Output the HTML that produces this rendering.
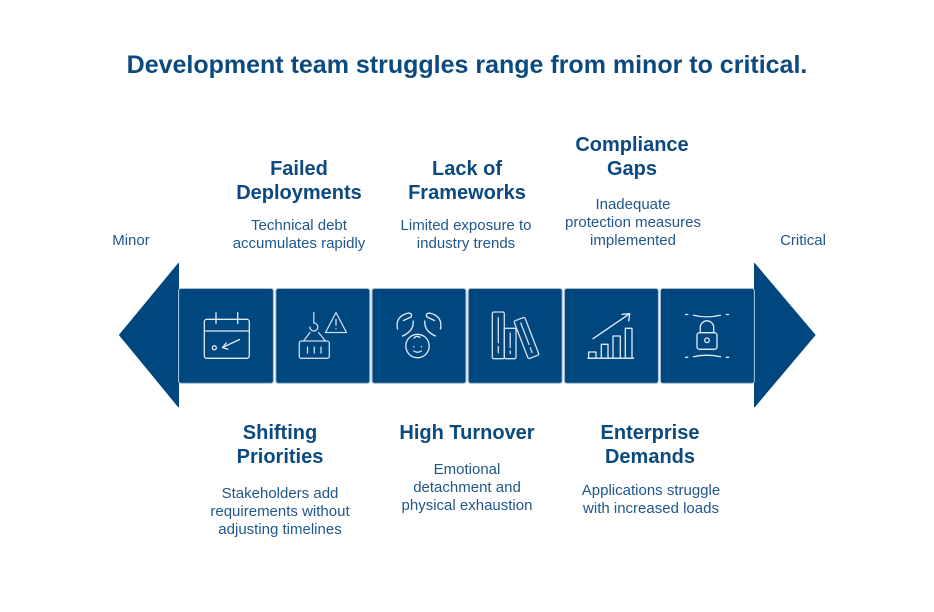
<!DOCTYPE html>
<html>
<head>
<meta charset="utf-8">
<style>
html,body{margin:0;padding:0;background:#ffffff;}
body{width:934px;height:612px;overflow:hidden;}
svg{display:block;}
.t{font-family:"Liberation Sans",Arial,sans-serif;font-weight:bold;font-size:20px;fill:#0a4a80;text-anchor:middle;}
.d{font-family:"Liberation Sans",Arial,sans-serif;font-size:15px;fill:#1f568c;text-anchor:middle;}
.ic{fill:none;stroke:#e4ecf5;stroke-width:1.3;stroke-linecap:round;stroke-linejoin:round;}
</style>
</head>
<body>
<svg width="934" height="612" viewBox="0 0 934 612" xmlns="http://www.w3.org/2000/svg">
  <!-- Title -->
  <text x="467" y="73" font-family="Liberation Sans, Arial, sans-serif" font-weight="bold" font-size="25" fill="#0a4a80" text-anchor="middle">Development team struggles range from minor to critical.</text>

  <!-- Arrowheads -->
  <polygon points="119.5,335 178.5,263.5 178.5,406.8" fill="#00467f" stroke="#00467f" stroke-width="1" stroke-linejoin="round"/>
  <polygon points="754.5,263.5 815,335 754.5,406.8" fill="#00467f" stroke="#00467f" stroke-width="1" stroke-linejoin="round"/>

  <!-- Boxes -->
  <g fill="#00467f" stroke="#a7bdd4" stroke-width="1.1">
    <rect x="178.6" y="288.5" width="94.8" height="94.8" rx="2.5"/>
    <rect x="275.8" y="288.5" width="94" height="94.8" rx="2.5"/>
    <rect x="372" y="288.5" width="94" height="94.8" rx="2.5"/>
    <rect x="468.2" y="288.5" width="94" height="94.8" rx="2.5"/>
    <rect x="564.4" y="288.5" width="94" height="94.8" rx="2.5"/>
    <rect x="660.4" y="288.5" width="94" height="94.8" rx="2.5"/>
  </g>

  <!-- Icon 1: calendar -->
  <g class="ic">
    <rect x="204.3" y="319.3" width="45" height="39" rx="2.5"/>
    <line x1="204.3" y1="331" x2="249.3" y2="331"/>
    <line x1="216" y1="312.7" x2="216" y2="323.5"/>
    <line x1="237.7" y1="312.7" x2="237.7" y2="323.5"/>
    <circle cx="214.3" cy="347.7" r="2"/>
    <line x1="239.5" y1="339.5" x2="222.5" y2="347.5"/>
    <polyline points="226.2,343 222.5,347.5 227.8,349.3"/>
  </g>

  <!-- Icon 2: crane / container / warning -->
  <g class="ic" style="stroke:#cfdbe8">
    <path d="M313.8,312.7 V323 a4,4 0 1 1 -4,4"/>
    <line x1="310" y1="332.5" x2="303.5" y2="341"/>
    <line x1="318.5" y1="332.5" x2="325.5" y2="341"/>
    <rect x="299.3" y="341" width="30" height="17.3" rx="2"/>
    <line x1="307.5" y1="347" x2="307.5" y2="353"/>
    <line x1="314.3" y1="347" x2="314.3" y2="353"/>
    <line x1="321" y1="347" x2="321" y2="353"/>
    <path d="M336,312.5 L346.5,332.5 L325.5,332.5 Z"/>
    <line x1="336" y1="319.5" x2="336" y2="325.3"/>
    <line x1="336" y1="328.8" x2="336" y2="329"/>
  </g>

  <!-- Icon 3: hands + face -->
  <g class="ic">
    <path d="M397.5,329 Q395,316 408.5,313"/>
    <path d="M408.5,313 Q413,313.5 411,317 L403.5,320.5"/>
    <path d="M402.5,336 Q414,331 413.2,321"/>
    <path d="M440.5,329 Q443,316 429.5,313"/>
    <path d="M429.5,313 Q425,313.5 427,317 L434.5,320.5"/>
    <path d="M435.5,336 Q424,331 424.8,321"/>
    <circle cx="417.5" cy="346" r="11.7"/>
    <path d="M414,338 Q417,335 420,337.5"/>
    <line x1="413.8" y1="346.5" x2="413.8" y2="346.8"/>
    <line x1="421.5" y1="346.5" x2="421.5" y2="346.8"/>
    <path d="M413.8,351 Q417.6,353.4 421.4,351"/>
  </g>

  <!-- Icon 4: books -->
  <g class="ic" style="stroke:#d6e1ed">
    <rect x="492.3" y="312" width="12" height="46.7" rx="1.5"/>
    <line x1="498.3" y1="317.7" x2="498.3" y2="342.7"/>
    <line x1="498.3" y1="346.5" x2="498.3" y2="352.7"/>
    <rect x="504.3" y="328.3" width="11.7" height="30.4" rx="1.5"/>
    <line x1="510.2" y1="333" x2="510.2" y2="347.5"/>
    <line x1="510.2" y1="351" x2="510.2" y2="353.5"/>
    <g transform="rotate(-21 526.5 338)">
      <rect x="520.7" y="317.8" width="11.6" height="40.4" rx="1.5"/>
      <line x1="526.5" y1="322" x2="526.5" y2="345"/>
      <line x1="526.5" y1="348.5" x2="526.5" y2="353.5"/>
    </g>
  </g>

  <!-- Icon 5: bar chart -->
  <g class="ic">
    <rect x="588.7" y="352" width="7.3" height="6.2"/>
    <rect x="601.3" y="344.3" width="6.7" height="13.9"/>
    <rect x="613" y="336" width="7.3" height="22.2"/>
    <rect x="625.3" y="328.3" width="6.7" height="29.9"/>
    <line x1="588" y1="358.2" x2="633.7" y2="358.2"/>
    <line x1="593" y1="338.7" x2="629.7" y2="313.7"/>
    <polyline points="622,314.3 629.7,313.7 628.7,321"/>
  </g>

  <!-- Icon 6: lock -->
  <g class="ic">
    <rect x="697" y="332.7" width="20" height="16.6" rx="2.5"/>
    <path d="M700.3,332.7 V327.5 a6.7,6.7 0 0 1 13.4,0 V332.7"/>
    <circle cx="707" cy="340.3" r="2.3"/>
    <path d="M693.5,315.3 Q707,318.5 720.5,315.3"/>
    <path d="M693.5,356.8 Q707,353.6 720.5,356.8"/>
    <line x1="685.5" y1="314.5" x2="687.8" y2="314.5"/>
    <line x1="726.3" y1="314.5" x2="728.6" y2="314.5"/>
    <line x1="685.5" y1="357.3" x2="687.8" y2="357.3"/>
    <line x1="726.3" y1="357.3" x2="728.6" y2="357.3"/>
  </g>

  <!-- Minor / Critical -->
  <text class="d" x="131" y="245">Minor</text>
  <text class="d" x="803" y="245">Critical</text>

  <!-- Top labels -->
  <text class="t" x="299" y="175">Failed</text>
  <text class="t" x="299" y="199">Deployments</text>
  <text class="d" x="299" y="230">Technical debt</text>
  <text class="d" x="299" y="248">accumulates rapidly</text>

  <text class="t" x="467" y="175">Lack of</text>
  <text class="t" x="467" y="199">Frameworks</text>
  <text class="d" x="466" y="230">Limited exposure to</text>
  <text class="d" x="466" y="248">industry trends</text>

  <text class="t" x="632" y="151">Compliance</text>
  <text class="t" x="632" y="175">Gaps</text>
  <text class="d" x="633" y="209">Inadequate</text>
  <text class="d" x="633" y="227">protection measures</text>
  <text class="d" x="633" y="245">implemented</text>

  <!-- Bottom labels -->
  <text class="t" x="280" y="439">Shifting</text>
  <text class="t" x="280" y="463">Priorities</text>
  <text class="d" x="280" y="498">Stakeholders add</text>
  <text class="d" x="280" y="516">requirements without</text>
  <text class="d" x="280" y="534">adjusting timelines</text>

  <text class="t" x="467" y="439">High Turnover</text>
  <text class="d" x="467" y="474">Emotional</text>
  <text class="d" x="467" y="492">detachment and</text>
  <text class="d" x="467" y="510">physical exhaustion</text>

  <text class="t" x="650" y="439">Enterprise</text>
  <text class="t" x="650" y="463">Demands</text>
  <text class="d" x="651" y="495">Applications struggle</text>
  <text class="d" x="651" y="513">with increased loads</text>
</svg>
</body>
</html>
